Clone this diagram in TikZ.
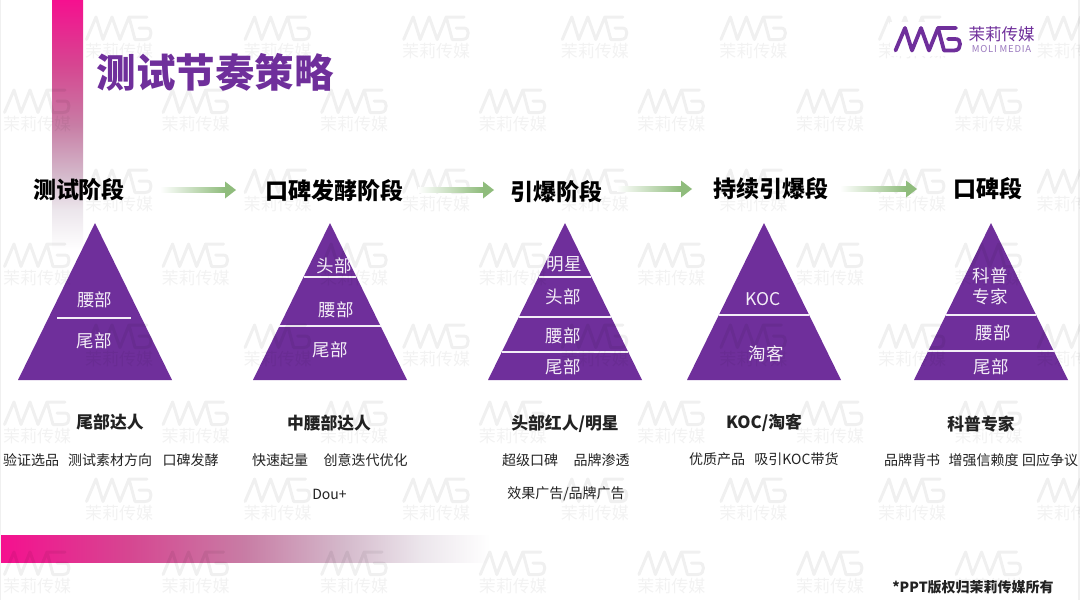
\documentclass[tikz,border=0pt]{standalone}
\usepackage{fontspec}
\setmainfont{Noto Sans CJK SC}
\usetikzlibrary{calc}
\definecolor{mpurple}{HTML}{6F2F9B}
\definecolor{mgreen}{HTML}{8FBC7C}
\definecolor{mlight}{HTML}{9A78BE}
\definecolor{mtext}{HTML}{222222}
\definecolor{gA}{HTML}{F5108F}
\definecolor{gB}{HTML}{D64691}
\definecolor{gC}{HTML}{C87DA5}
\definecolor{gD}{HTML}{D4B9CB}
\definecolor{gE}{HTML}{ECE6EC}
\pgfdeclareverticalshading{vbar}{100bp}{
  color(0bp)=(white); color(25bp)=(white);
  color(33bp)=(gE);
  color(40bp)=(gD);
  color(50bp)=(gC);
  color(62bp)=(gB);
  color(75bp)=(gA);
  color(100bp)=(gA)}
\pgfdeclarehorizontalshading{hbar}{100bp}{
  color(0bp)=(gA); color(25bp)=(gA);
  color(38bp)=(gB);
  color(50bp)=(gC);
  color(60bp)=(gD);
  color(68bp)=(gE);
  color(75bp)=(white); color(100bp)=(white)}
\newcommand{\fsz}[1]{\fontsize{#1}{#1}\selectfont}
\newcommand{\mmglogo}[2]{%
  \draw[line join=round,line cap=round,#2,line width=#1]
    (1.5,24.5) -- (11,2) -- (18,24.5) -- (27,2) -- (35,24.5) -- (44,2) -- (62,2)
    (44,2) -- (50,24.5) -- (60,24.5) .. controls (65,24.5) and (66,21) .. (66,18)
    .. controls (66,15) and (65,13) .. (61,13) -- (54,13);
}
\newcommand{\wmark}[3]{%
  \begin{scope}[shift={(#1,#2)}]
    \mmglogo{3pt}{draw=black,draw opacity=.06}
    \node[wmtext] (#3) at (34,36) {茉莉传媒};
  \end{scope}}
\newcommand{\garrow}[2]{%
  \shade[left color=white,right color=mgreen] ($(#1)+(0,-2.6)$) rectangle ($(#2)+(-11,2.6)$);
  \fill[mgreen] ($(#2)+(-11,-8.5)$) -- (#2) -- ($(#2)+(-11,8.5)$) -- cycle;}
\newcommand{\pyramid}[2]{%
  \fill[mpurple] (#1,223) -- (#1+77,380) -- (#1-77,380) -- cycle;
  \foreach \yy in {#2} {
    \pgfmathsetmacro{\hw}{(\yy-223)/157*77}
    \draw[divline] (#1-\hw,\yy) -- (#1+\hw,\yy);
  }}
\tikzset{
  x=1pt,y=-1pt,
  wmtext/.style={text=black,text opacity=.05,font=\fsz{17},inner sep=0pt},
  divline/.style={draw=white!92!mpurple,line width=1.3pt},
  tri/.style={text=white!92!mpurple,font=\fsz{17.5},inner sep=0pt},
  phase/.style={text=black,font=\bfseries\fsz{23},inner sep=0pt},
  who/.style={text=mtext,font=\bfseries\fsz{16.8},inner sep=0pt},
  body/.style={text=mtext,font=\fsz{14},inner sep=0pt},
}
\begin{document}
\begin{tikzpicture}
\useasboundingbox (0,0) rectangle (1080,600);
\clip (0,0) rectangle (1080,600);
\fill[white] (0,0) rectangle (1080,600);
\fill[black!6] (0,0) rectangle (1,600);
\fill[black!6] (1078,0) rectangle (1080,600);
% gradient bars
\shade[shading=vbar] (52,0) rectangle (83,250);
\shade[shading=hbar] (1,535) rectangle (490,562);
% pyramids
\pyramid{95}{}
\draw[divline] (57,318) -- (131,318);
\pyramid{330}{277,326}
\pyramid{565}{277,317,352}
\pyramid{764}{315}
\pyramid{991}{315,351}
% watermark grid
\foreach \ry/\rx/\rn in {15/85/a,88/3/b,168/85/c,242/3/d,323/85/e,400/3/f,477/85/g,550/3/h}{
  \foreach \j in {0,...,6}{
    \pgfmathsetmacro{\wx}{\rx+158.6*\j}
    \wmark{\wx}{\ry}{wm\rn\j}
  }
}
% arrows
\coordinate (a1s) at (160,190); \coordinate (a1e) at (236,190);
\coordinate (a2s) at (418,190); \coordinate (a2e) at (494,190);
\coordinate (a3s) at (617,189); \coordinate (a3e) at (692,189);
\coordinate (a4s) at (840,189); \coordinate (a4e) at (917,189);
\garrow{a1s}{a1e}
\garrow{a2s}{a2e}
\garrow{a3s}{a3e}
\garrow{a4s}{a4e}
% title
\node[text=mpurple,font=\bfseries\fsz{39.5},inner sep=0pt] (title) at (215,72) {测试节奏策略};
% phases
\node[phase] (p1) at (79,190) {测试阶段};
\node[phase] (p2) at (334,191) {口碑发酵阶段};
\node[phase] (p3) at (556,192) {引爆阶段};
\node[phase] (p4) at (771,189) {持续引爆段};
\node[phase] (p5) at (988,189) {口碑段};
% pyramid labels
\node[tri] (t11) at (94.5,300) {腰部};
\node[tri] (t12) at (94,341) {尾部};
\node[tri] (t21) at (334,266) {头部};
\node[tri] (t22) at (336,310) {腰部};
\node[tri] (t23) at (330,350) {尾部};
\node[tri] (t31) at (564,264) {明星};
\node[tri] (t32) at (563,297) {头部};
\node[tri] (t33) at (563,336) {腰部};
\node[tri] (t34) at (563,367) {尾部};
\node[tri] (t41) at (763,299) {KOC};
\node[tri] (t42) at (766,354) {淘客};
\node[tri] (t51) at (990,276) {科普};
\node[tri] (t52) at (990,297) {专家};
\node[tri] (t53) at (993,333) {腰部};
\node[tri] (t54) at (991,367) {尾部};
% who
\node[who] (w1) at (110,422) {尾部达人};
\node[who] (w2) at (329,423) {中腰部达人};
\node[who] (w3) at (565,424) {头部红人/明星};
\node[who] (w4) at (764,423) {KOC/淘客};
\node[who] (w5) at (981,424) {科普专家};
% body
\node[body] (b1) at (31,460) {验证选品};
\node[body] (b2) at (110,460) {测试素材方向};
\node[body] (b3) at (190.5,460) {口碑发酵};
\node[body] (b4) at (280,460) {快速起量};
\node[body] (b5) at (365.5,460) {创意迭代优化};
\node[body] (b6) at (329.5,494) {Dou+};
\node[body] (b7) at (530,460) {超级口碑};
\node[body] (b8) at (601.5,460) {品牌渗透};
\node[body] (b9) at (566,494) {效果广告/品牌广告};
\node[body] (b10) at (717,459) {优质产品};
\node[body] (b11) at (796.5,459) {吸引KOC带货};
\node[body] (b12) at (912,460) {品牌背书};
\node[body] (b13) at (983.5,460) {增强信赖度};
\node[body] (b14) at (1050,460) {回应争议};
\node[text=mtext,font=\bfseries\fsz{14},inner sep=0pt] (copy) at (973,587) {*PPT版权归茉莉传媒所有};
% logo
\fill[white] (890,22) rectangle (1038,56);
\begin{scope}[shift={(894,26)}]
  \mmglogo{3.8pt}{draw=mpurple}
\end{scope}
\node[text=mpurple,font=\fsz{16.5},inner sep=0pt] (lg1) at (1001.5,34) {茉莉传媒};
\node[text=mlight,font=\addfontfeature{LetterSpace=8}\fsz{9.5},inner sep=0pt] (lg2) at (1001.5,49) {MOLI MEDIA};
\end{tikzpicture}
\end{document}
